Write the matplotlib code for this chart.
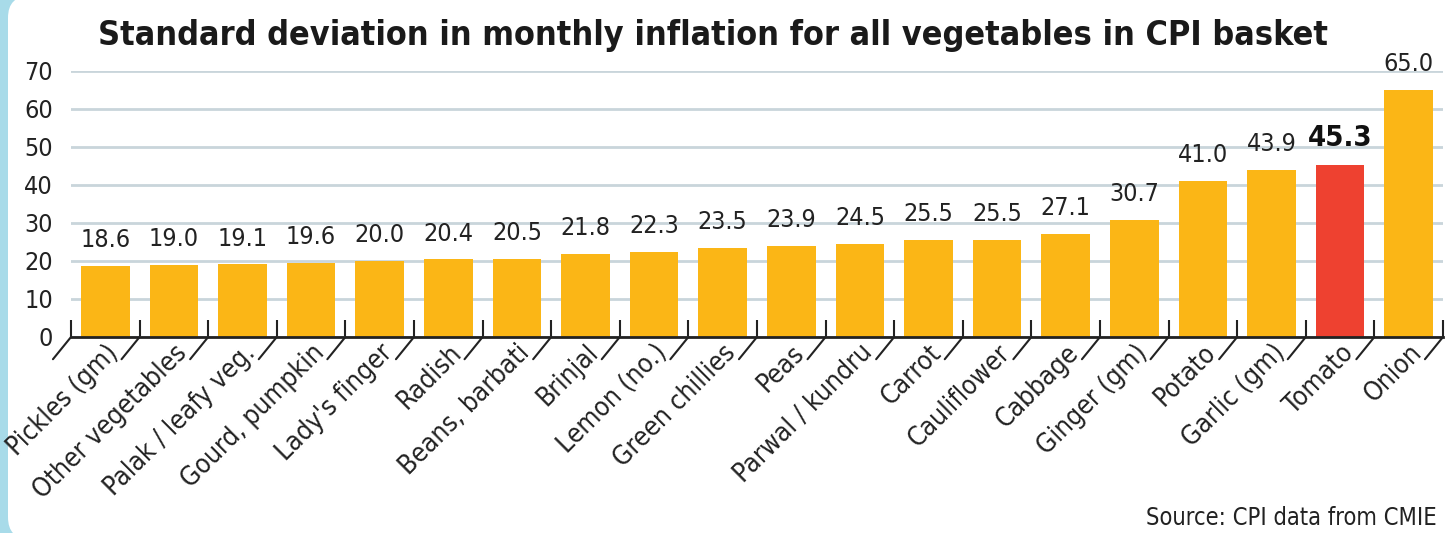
import matplotlib
matplotlib.use("Agg")
import matplotlib.pyplot as plt
from matplotlib.patches import FancyBboxPatch

plt.rcParams['font.family'] = ['DejaVu Sans']
plt.rcParams['font.stretch'] = 'condensed'

items = ["Pickles (gm)", "Other vegetables", "Palak / leafy veg.", "Gourd, pumpkin",
         "Lady's finger", "Radish", "Beans, barbati", "Brinjal", "Lemon (no.)",
         "Green chillies", "Peas", "Parwal / kundru", "Carrot", "Cauliflower",
         "Cabbage", "Ginger (gm)", "Potato", "Garlic (gm)", "Tomato", "Onion"]
std_dev = [18.6, 19.0, 19.1, 19.6, 20.0, 20.4, 20.5, 21.8, 22.3, 23.5,
           23.9, 24.5, 25.5, 25.5, 27.1, 30.7, 41.0, 43.9, 45.3, 65.0]
highlight = "Tomato"

W, H = 1451, 533
fig = plt.figure(figsize=(W / 100, H / 100), dpi=100, facecolor="#a8dbe9")
panel = FancyBboxPatch((8 / W, -6 / H), 1.1, (H + 10) / H,
                       boxstyle="round,pad=0,rounding_size=0.015",
                       mutation_aspect=W / H,
                       transform=fig.transFigure, fc="white", ec="none", zorder=-5)
fig.patches.append(panel)

ax = fig.add_axes([71 / W, (H - 337) / H, (1443 - 71) / W, (337 - 71) / H])
ax.set_facecolor("none")

x = [i + 0.5 for i in range(len(items))]
colors = ["#ee4130" if n == highlight else "#fbb616" for n in items]
bars = ax.bar(x, std_dev, width=0.71, color=colors, zorder=2)

for xi, v, n in zip(x, std_dev, items):
    if n == highlight:
        ax.annotate(f"{v:.1f}", (xi, v), xytext=(0, 9), textcoords="offset points",
                    ha="center", va="bottom", fontsize=21, fontweight="bold",
                    color="#111111")
    else:
        ax.annotate(f"{v:.1f}", (xi, v), xytext=(0, 10), textcoords="offset points",
                    ha="center", va="bottom", fontsize=18, color="#222222")

ax.set_xlim(0, len(items))
ax.set_ylim(0, 70)
ax.set_yticks(range(0, 71, 10))
ax.yaxis.grid(True, color="#c9d5db", lw=2)
ax.set_axisbelow(True)
ax.tick_params(axis="y", length=0, labelsize=18, pad=13, labelcolor="#222222")

# boundary ticks pointing up, labels at bar centres
ax.set_xticks(range(len(items) + 1))
ax.set_xticklabels([])
ax.tick_params(axis="x", which="major", direction="in", length=12, width=1.5, color="#222222")
ax.set_xticks(x, minor=True)
ax.set_xticklabels(items, minor=True, rotation=45, ha="right", rotation_mode="anchor",
                   fontsize=19, color="#222222")
ax.tick_params(axis="x", which="minor", length=0, pad=2)

for b in range(len(items) + 1):
    ax.annotate("", xy=(b, 0), xytext=(-13, -16), textcoords="offset points",
                arrowprops=dict(arrowstyle="-", lw=1.5, color="#222222",
                                shrinkA=0, shrinkB=0), annotation_clip=False)

for s in ["top", "right", "left"]:
    ax.spines[s].set_visible(False)
ax.spines["bottom"].set_linewidth(2)
ax.spines["bottom"].set_color("#222222")

fig.text(713 / W, 1 - 36 / H, "Standard deviation in monthly inflation for all vegetables in CPI basket",
         ha="center", va="center", fontsize=24.5, fontweight="bold", color="#1a1a1a")
fig.text(1437 / W, 1 - 518 / H, "Source: CPI data from CMIE", ha="right", va="center",
         fontsize=17, color="#222222")

fig.savefig("out.png", dpi=100, facecolor=fig.get_facecolor())
